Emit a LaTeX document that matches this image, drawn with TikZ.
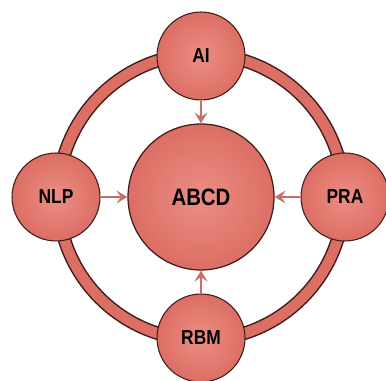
\documentclass[tikz,border=0pt]{standalone}
\usepackage{fontspec}
\setmainfont{Liberation Sans}
\usetikzlibrary{arrows.meta,positioning}

\definecolor{salmon}{RGB}{220,110,100}
\definecolor{salmonlight}{RGB}{236,142,132}
\definecolor{rimdark}{RGB}{62,28,26}
\definecolor{arrowcol}{RGB}{196,112,104}

\newcommand{\narrow}[1]{\scalebox{0.86}[1]{#1}}

\begin{document}
\begin{tikzpicture}[
    x=0.02cm, y=0.02cm,
    every node/.style={font=\bfseries},
    sat/.style={circle, draw=rimdark, line width=0.6pt, minimum size=1.76cm,
                inner sep=0pt, inner color=salmonlight, outer color=salmon,
                font=\fontsize{11.5}{13}\bfseries},
    hub/.style={circle, draw=rimdark, line width=0.7pt, minimum size=2.92cm,
                inner sep=0pt, inner color=salmonlight, outer color=salmon,
                font=\fontsize{13.5}{15}\bfseries},
    e/.style={-{Stealth[length=2.2mm, width=2.6mm, inset=0.9mm]},
              arrowcol, line width=1.1pt},
  ]
  \useasboundingbox (-201,-184) rectangle (185,197);
  % outer ring
  \draw[rimdark, line width=0.27cm] (0,0) circle[radius=143];
  \draw[salmon, line width=0.21cm] (0,0) circle[radius=143];
  % nodes
  \node[hub] (abcd) at (0,0) {\narrow{ABCD}};
  \node[sat] (ai)  at (90:141)  {\narrow{AI}};
  \node[sat] (nlp) at (180:145) {\narrow{NLP}};
  \node[sat] (pra) at (0:144)   {\narrow{PRA}};
  \node[sat] (rbm) at (270:141) {\narrow{RBM}};
  % arrows into the hub
  \draw[e] (ai)  -- (abcd);
  \draw[e] (nlp) -- (abcd);
  \draw[e] (pra) -- (abcd);
  \draw[e] (rbm) -- (abcd);
\end{tikzpicture}
\end{document}
